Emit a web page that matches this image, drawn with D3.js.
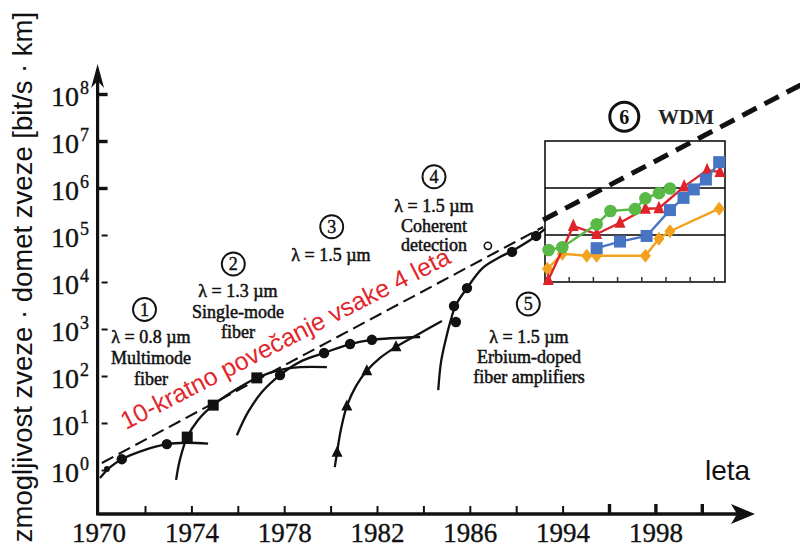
<!DOCTYPE html>
<html><head><meta charset="utf-8">
<script src="https://cdn.jsdelivr.net/npm/d3@7"></script>
<style>body{margin:0;background:#fff}svg{display:block}</style>
</head><body>
<svg id="c" width="800" height="548"></svg>
<script>
// ================= DATA =================
// Main x axis is in tick positions (one tick every 2 years up to 1988, compressed afterwards)
const xTickPositions = [1,2,3,4,5,6,7,8,9,10,11,12,13];
const xLabelPositions = [0,2,4,6,8,10,12];
const xTickLabels = ["1970","1974","1978","1982","1986","1994","1998"];
// y: decades of bit-rate x distance (bit/s · km), stored as log10 exponents
const yExponents = [0,1,2,3,4,5,6,7,8];

// trend "10x every 4 years" : [position, log10(BL)]
const trendThin  = [[0.07,0.15],[9.58,5.17]];
const trendThick = [[9.58,5.32],[15.3,8.28]];

// generation curves [position, log10(BL)]
const curveMultimode = [[0.03,-0.17],[0.25,0.06],[0.5,0.23],[1.0,0.43],[1.47,0.55],[1.9,0.58],[2.36,0.56]];
const dotsMultimode  = [[0.5,0.23],[1.47,0.55]];
const smallMarkMultimode = [[0.18,0.02]];

const curveSingleMode = [[1.67,-0.21],[1.75,0.21],[1.91,0.70],[2.14,1.06],[2.47,1.38],[2.94,1.70],[3.41,1.96],[3.91,2.13],[4.34,2.19],[4.92,2.19]];
const squaresSingleMode = [[1.91,0.70],[2.47,1.38],[3.41,1.96]];

const curve15a = [[2.98,0.74],[3.22,1.23],[3.52,1.66],[3.91,2.02],[4.34,2.30],[4.86,2.49],[5.42,2.68],[5.89,2.77],[6.93,2.83]];
const dots15a  = [[3.91,2.02],[4.86,2.49],[5.42,2.68],[5.89,2.77]];

const curve15b = [[5.09,0.06],[5.14,0.38],[5.22,0.85],[5.35,1.36],[5.55,1.79],[5.78,2.11],[6.06,2.38],[6.41,2.62],[6.93,2.91],[7.40,3.17]];
const triangles15b = [[5.14,0.38],[5.35,1.36],[5.78,2.11],[6.41,2.62]];

const curveCoherent = [[7.32,1.70],[7.38,2.30],[7.49,2.81],[7.59,3.19],[7.70,3.51],[7.94,3.87],[8.28,4.30],[8.65,4.53],[8.91,4.66],[9.43,4.98],[9.62,5.13]];
const dotsCoherent  = [[7.70,3.15],[7.66,3.49],[7.94,3.87],[8.91,4.64],[9.43,4.98]];
const openCoherent  = [[8.39,4.77]];

// WDM inset: [year, log10(BL)]
const insetYears = [1992,1994,1996,1998,2000,2002,2004];
const insetGrid = [5,6];
const wdmGreen  = [[1990.3,4.68],[1991.43,4.74],[1994.27,5.23],[1995.41,5.51],[1997.44,5.55],[1998.3,5.78],[1999.42,5.89],[2000.33,5.99]];
const wdmRed    = [[1990.27,4.04],[1992.34,5.19],[1994.27,5.02],[1996.2,5.26],[1998.3,5.56],[1999.42,5.57],[2001.5,6.03],[2003.4,6.38],[2004.46,6.34]];
const wdmBlue   = [[1994.27,4.72],[1996.2,4.86],[1998.4,4.98],[2000.33,5.53],[2001.45,5.79],[2002.3,5.97],[2003.3,6.18],[2004.4,6.55]];
const wdmOrange = [[1990.2,4.28],[1991.43,4.60],[1993.45,4.56],[1994.27,4.56],[1998.3,4.56],[1999.42,4.92],[2000.33,5.08],[2004.4,5.56]];

// ================= DRAW =================
const svg = d3.select("#c");
const x  = d3.scaleLinear().domain([0,13]).range([98.6,701.8]);
const y  = d3.scaleLog().domain([1,1e8]).range([470,94]);
const xi = d3.scaleLinear().domain([1990,2004.88]).range([545,725]);
const Y = e => y(Math.pow(10,e));
const serif = "'Liberation Serif','Times New Roman',serif";
const sans  = "'Liberation Sans',Arial,sans-serif";
const ink = "#111";

// axes lines + arrows
const x0 = x(0), yAxis = 514;
svg.append("line").attr("x1",x0).attr("x2",740).attr("y1",yAxis).attr("y2",yAxis)
  .attr("stroke",ink).attr("stroke-width",3.3);
svg.append("path").attr("d",`M755,${yAxis} L731,${yAxis-10} L737,${yAxis} L731,${yAxis+10} Z`).attr("fill",ink);
svg.append("line").attr("x1",x0-1).attr("x2",x0-1).attr("y1",yAxis+1.6).attr("y2",80)
  .attr("stroke",ink).attr("stroke-width",3.2);
svg.append("path").attr("d",`M${x0-1},64 L${x0+5.5},88 L${x0-1},81 L${x0-7.5},88 Z`).attr("fill",ink);

// x ticks
const gxt = svg.append("g").attr("transform",`translate(0,${yAxis-1})`)
  .call(d3.axisTop(x).tickValues(xTickPositions).tickSize(8).tickFormat(""));
gxt.select(".domain").remove();
gxt.selectAll(".tick line").attr("stroke",ink)
  .attr("stroke-width",d=>d>=11?3.4:2).attr("y2",d=>d>=11?-9:-7);
// x labels
const gxl = svg.append("g").attr("transform",`translate(0,${yAxis})`)
  .call(d3.axisBottom(x).tickValues(xLabelPositions).tickSize(0).tickFormat((d,i)=>xTickLabels[i]));
gxl.select(".domain").remove();
gxl.selectAll(".tick text").attr("y",28).attr("dy",0)
  .attr("font-family",serif).attr("font-size",27).attr("fill",ink)
  .attr("stroke",ink).attr("stroke-width",0.35);

// y ticks
const gyt = svg.append("g").attr("transform",`translate(${x0-1},0)`)
  .call(d3.axisRight(y).tickValues(yExponents.map(e=>Math.pow(10,e))).tickSize(10).tickFormat(""));
gyt.select(".domain").remove();
gyt.selectAll(".tick line").attr("stroke",ink)
  .attr("x1",d=>d>=1e6?0:4).attr("x2",10)
  .attr("stroke-width",d=>d>=1e6?3.4:2);
// y labels 10^n
const yl = svg.append("g").selectAll("text").data(yExponents).join("text")
  .attr("x",51).attr("y",e=>Y(e)+12)
  .attr("font-family",serif).attr("font-size",28).attr("fill",ink)
  .attr("stroke",ink).attr("stroke-width",0.35);
yl.append("tspan").text("10");
yl.append("tspan").attr("dx",1).attr("dy",-12).attr("font-size",18).text(e=>e);

// axis titles
svg.append("text").attr("transform","translate(32,277) rotate(-90)")
  .attr("text-anchor","middle").attr("font-family",sans).attr("font-size",27.5).attr("fill",ink)
  .text("zmogljivost zveze · domet zveze [bit/s · km]");
svg.append("text").attr("x",705).attr("y",480).attr("font-family",sans).attr("font-size",28).attr("fill",ink)
  .text("leta");

// inset box
svg.append("rect").attr("x",xi.range()[0]).attr("y",Y(7)).attr("width",xi.range()[1]-xi.range()[0])
  .attr("height",Y(4)-Y(7)).attr("fill","#fff").attr("stroke",ink).attr("stroke-width",1.6);
svg.append("g").selectAll("line").data(insetGrid).join("line")
  .attr("x1",xi.range()[0]).attr("x2",xi.range()[1]).attr("y1",d=>Y(d)).attr("y2",d=>Y(d))
  .attr("stroke","#000").attr("stroke-width",1.3);
svg.append("g").selectAll("line").data(insetYears).join("line")
  .attr("x1",d=>xi(d)).attr("x2",d=>xi(d)).attr("y1",Y(4)).attr("y2",Y(4)-5)
  .attr("stroke","#333").attr("stroke-width",1.5);

const lineI = d3.line().x(d=>xi(d[0])).y(d=>Y(d[1]));
const insetSeries = [
  {data:wdmOrange,color:"#f2a21f",shape:"diamond"},
  {data:wdmRed,color:"#e0232b",shape:"triangle"},
  {data:wdmGreen,color:"#58b947",shape:"circle"},
  {data:wdmBlue,color:"#4874c4",shape:"square"}
];
insetSeries.forEach(s=>{
  svg.append("path").attr("d",lineI(s.data)).attr("fill","none").attr("stroke",s.color).attr("stroke-width",2.4);
  const g = svg.append("g").attr("fill",s.color);
  s.data.forEach(d=>{
    const cx=xi(d[0]), cy=Y(d[1]);
    if(s.shape==="circle") g.append("circle").attr("cx",cx).attr("cy",cy).attr("r",6.3);
    else if(s.shape==="square") g.append("rect").attr("x",cx-6).attr("y",cy-6).attr("width",12).attr("height",12);
    else if(s.shape==="triangle") g.append("path").attr("d",`M${cx},${cy-7.5} L${cx+5.5},${cy+5} L${cx-5.5},${cy+5} Z`);
    else g.append("path").attr("d",`M${cx},${cy-7} L${cx+5.5},${cy} L${cx},${cy+7} L${cx-5.5},${cy} Z`);
  });
});

// main curves
const lineM = d3.line().x(d=>x(d[0])).y(d=>Y(d[1])).curve(d3.curveCatmullRom.alpha(0.5));
[curveMultimode,curveSingleMode,curve15a,curve15b,curveCoherent].forEach(c=>{
  svg.append("path").attr("d",lineM(c)).attr("fill","none").attr("stroke",ink).attr("stroke-width",2.3);
});
// trend lines
const lineS = d3.line().x(d=>x(d[0])).y(d=>Y(d[1]));
svg.append("path").attr("d",lineS(trendThin)).attr("fill","none").attr("stroke",ink)
  .attr("stroke-width",2.1).attr("stroke-dasharray","13,6");
svg.append("path").attr("d",lineS(trendThick)).attr("fill","none").attr("stroke",ink)
  .attr("stroke-width",5).attr("stroke-dasharray","16,9");

// markers
const mk = svg.append("g").attr("fill",ink);
[...dotsMultimode,...dots15a,...dotsCoherent].forEach(d=>mk.append("circle").attr("cx",x(d[0])).attr("cy",Y(d[1])).attr("r",5.2));
smallMarkMultimode.forEach(d=>mk.append("circle").attr("cx",x(d[0])).attr("cy",Y(d[1])).attr("r",3));
squaresSingleMode.forEach(d=>mk.append("rect").attr("x",x(d[0])-5.5).attr("y",Y(d[1])-5.5).attr("width",11).attr("height",11));
triangles15b.forEach(d=>{const cx=x(d[0]),cy=Y(d[1]);
  mk.append("path").attr("d",`M${cx},${cy-6.5} L${cx+5.5},${cy+4.5} L${cx-5.5},${cy+4.5} Z`);});
openCoherent.forEach(d=>svg.append("circle").attr("cx",x(d[0])).attr("cy",Y(d[1])).attr("r",3.6)
  .attr("fill","#fff").attr("stroke",ink).attr("stroke-width",1.6));

// annotations
const labels = [
  {n:"1",cx:144.5,cy:309.5,tx:151,lines:["λ = 0.8 µm","Multimode","fiber"],y0:343,dy:21},
  {n:"2",cx:233.3,cy:264,tx:238,lines:["λ = 1.3 µm","Single-mode","fiber"],y0:297,dy:20.5},
  {n:"3",cx:331.7,cy:226.7,tx:331,lines:["λ = 1.5 µm"],y0:261,dy:20},
  {n:"4",cx:434,cy:176.7,tx:434,lines:["λ = 1.5 µm","Coherent","detection"],y0:212,dy:19.7},
  {n:"5",cx:528.3,cy:304,tx:529,lines:["λ = 1.5 µm","Erbium-doped","fiber amplifiers"],y0:343,dy:20}
];
labels.forEach(l=>{
  svg.append("circle").attr("cx",l.cx).attr("cy",l.cy).attr("r",11.5).attr("fill","none").attr("stroke",ink).attr("stroke-width",1.9);
  svg.append("text").attr("x",l.cx).attr("y",l.cy+6).attr("text-anchor","middle")
    .attr("font-family",serif).attr("font-size",18).attr("fill",ink).attr("stroke",ink).attr("stroke-width",0.4).text(l.n);
  l.lines.forEach((t,i)=>svg.append("text").attr("x",l.tx).attr("y",l.y0+i*l.dy).attr("text-anchor","middle")
    .attr("font-family",serif).attr("font-size",18).attr("fill",ink).attr("stroke",ink).attr("stroke-width",0.5).text(t));
});
svg.append("circle").attr("cx",624.3).attr("cy",116.7).attr("r",14.5).attr("fill","none").attr("stroke",ink).attr("stroke-width",3);
svg.append("text").attr("x",624.3).attr("y",123.5).attr("text-anchor","middle").attr("font-family",serif)
  .attr("font-size",20).attr("font-weight","bold").attr("fill",ink).text("6");
svg.append("text").attr("x",658).attr("y",123.5).attr("font-family",serif).attr("font-size",21)
  .attr("font-weight","bold").attr("fill","#222").text("WDM");

// red trend annotation
svg.append("text").attr("transform","translate(126,430) rotate(-27.2)")
  .attr("font-family",sans).attr("font-size",25).attr("fill","#e3262b")
  .text("10-kratno povečanje vsake 4 leta");
</script>
</body></html>
